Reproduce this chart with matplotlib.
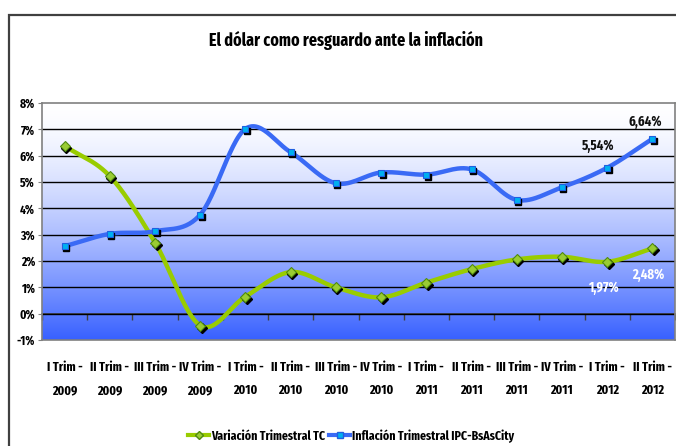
import numpy as np
import matplotlib
matplotlib.use("Agg")
import matplotlib.pyplot as plt
import matplotlib.transforms as mtransforms
from matplotlib import font_manager
from matplotlib.lines import Line2D
from matplotlib.patches import Rectangle

# pick a narrow sans close to the Arial Narrow of the original
installed = {f.name for f in font_manager.fontManager.ttflist}
narrow = [f for f in ["Fira Sans Extra Condensed", "Barlow Condensed",
                      "Roboto Condensed", "Liberation Sans Narrow"]
          if f in installed]
plt.rcParams["font.family"] = narrow[:1] + ["DejaVu Sans"]
plt.rcParams["font.weight"] = "bold"

# Data (percent)
quarters = ["I Trim -\n2009", "II Trim -\n2009", "III Trim -\n2009", "IV Trim -\n2009",
            "I Trim -\n2010", "II Trim -\n2010", "III Trim -\n2010", "IV Trim -\n2010",
            "I Trim -\n2011", "II Trim -\n2011", "III Trim -\n2011", "IV Trim -\n2011",
            "I Trim -\n2012", "II Trim -\n2012"]
tc_var = [6.37, 5.22, 2.70, -0.45, 0.65, 1.58, 1.00, 0.62, 1.18, 1.69, 2.06, 2.16, 1.97, 2.48]
ipc_infl = [2.56, 3.03, 3.13, 3.76, 7.02, 6.13, 4.95, 5.36, 5.28, 5.48, 4.32, 4.80, 5.54, 6.64]
yticks = list(range(-1, 9))

green = "#99cc00"
blue = "#3a6af5"


def smooth(xs, ys, n=30):
    # Catmull-Rom curve like Excel's smoothed lines
    x = np.asarray(xs, float)
    y = np.asarray(ys, float)
    px = np.concatenate([[2 * x[0] - x[1]], x, [2 * x[-1] - x[-2]]])
    py = np.concatenate([[2 * y[0] - y[1]], y, [2 * y[-1] - y[-2]]])
    t = np.linspace(0, 1, n)
    outx, outy = [], []
    for i in range(1, len(px) - 2):
        for p, out in ((px, outx), (py, outy)):
            p0, p1, p2, p3 = p[i - 1], p[i], p[i + 1], p[i + 2]
            out.extend(0.5 * (2 * p1 + (-p0 + p2) * t
                              + (2 * p0 - 5 * p1 + 4 * p2 - p3) * t ** 2
                              + (-p0 + 3 * p1 - 3 * p2 + p3) * t ** 3))
    return np.array(outx), np.array(outy)


fig = plt.figure(figsize=(6.76, 4.46), dpi=100)

# outer chart frame
fig.patches.append(Rectangle((9 / 676, -0.05), 1.2, 1 - 15 / 446 + 0.05,
                             transform=fig.transFigure, fill=False,
                             edgecolor="#404040", linewidth=1.6))

ax = fig.add_axes([42 / 676, 1 - 340 / 446, 633 / 676, 237 / 446])
n = len(quarters)
xs = np.arange(n)

# gradient background, white at top to blue at bottom
grad = np.linspace(0, 1, 256)[:, None]
top = np.array([1.0, 1.0, 1.0])
bot = np.array([0.22, 0.38, 1.0])
img = top + (bot - top) * grad[..., None] ** 1.5
ax.imshow(img, extent=[-0.5, n - 0.5, -1, 8], origin="upper", aspect="auto", zorder=0)
ax.set_xlim(-0.5, n - 0.5)
ax.set_ylim(-1, 8)

for v in yticks[1:-1]:
    ax.axhline(v, color="black", linewidth=1.0, zorder=1)

shadow = mtransforms.offset_copy(ax.transData, fig=fig, x=1.5, y=-2.0, units="dots")

gx, gy = smooth(xs, tc_var)
ax.plot(gx, gy, color=green, linewidth=3.2, zorder=3, solid_capstyle="round")
ax.plot(xs, tc_var, linestyle="none", marker="D", markersize=5, color="black",
        transform=shadow, zorder=3.5)
ax.plot(xs, tc_var, linestyle="none", marker="D", markersize=5,
        markerfacecolor="#99cc33", markeredgecolor="#4f8a10", markeredgewidth=0.8, zorder=4)

bx, by = smooth(xs, ipc_infl)
ax.plot(bx, by, color=blue, linewidth=3.2, zorder=3, solid_capstyle="round")
ax.plot(xs, ipc_infl, linestyle="none", marker="s", markersize=5, color="black",
        transform=shadow, zorder=3.5)
ax.plot(xs, ipc_infl, linestyle="none", marker="s", markersize=5,
        markerfacecolor="#00b0f0", markeredgecolor="#1f5fe0", markeredgewidth=0.8, zorder=4)

# data labels on the last two quarters
for i, dx_b, dy_b in ((n - 2, -6.5, 16), (n - 1, -5, 12)):
    ax.annotate(f"{ipc_infl[i]:.2f}%".replace(".", ","), (xs[i], ipc_infl[i]),
                xytext=(dx_b, dy_b), textcoords="offset points",
                ha="center", va="center", fontsize=10, color="#111111")
    ax.annotate(f"{tc_var[i]:.2f}%".replace(".", ","), (xs[i], tc_var[i]),
                xytext=(-3, -19), textcoords="offset points",
                ha="center", va="center", fontsize=10, color="white")

ax.set_yticks(yticks)
ax.set_yticklabels([f"{v}%" for v in yticks], fontsize=9)
ax.tick_params(axis="y", length=3, color="#808080", pad=2)
ax.set_xticks(xs)
ax.set_xticklabels(quarters, fontsize=9.5, linespacing=2.15)
ax.tick_params(axis="x", length=0, pad=15)

# tick marks on the 0% axis line, between categories
sec = ax.secondary_xaxis(1 / 9)
sec.set_xticks(np.arange(n + 1) - 0.5)
sec.set_xticklabels([])
sec.tick_params(axis="x", length=4, width=1, color="#404040", direction="out")
sec.spines["bottom"].set_color("#404040")
sec.spines["bottom"].set_linewidth(1.2)

for s in ax.spines.values():
    s.set_color("#808080")
    s.set_linewidth(1.2)

fig.text(0.512, 1 - 40 / 446, "El dólar como resguardo ante la inflación",
         ha="center", va="center", fontsize=12.5)

handles = [
    Line2D([], [], color=green, linewidth=3, marker="D", markersize=4,
           markerfacecolor="#99cc33", markeredgecolor="#4f8a10"),
    Line2D([], [], color=blue, linewidth=3, marker="s", markersize=4,
           markerfacecolor="#00b0f0", markeredgecolor="#1f5fe0"),
]
fig.legend(handles, ["Variación Trimestral TC", "Inflación Trimestral IPC-BsAsCity"],
           loc="center", bbox_to_anchor=(0.52, 1 - 436 / 446), ncol=2, frameon=False,
           fontsize=9.2, handlelength=1.6, handletextpad=0.2, columnspacing=0.3)

fig.savefig("out.png", dpi=100)
